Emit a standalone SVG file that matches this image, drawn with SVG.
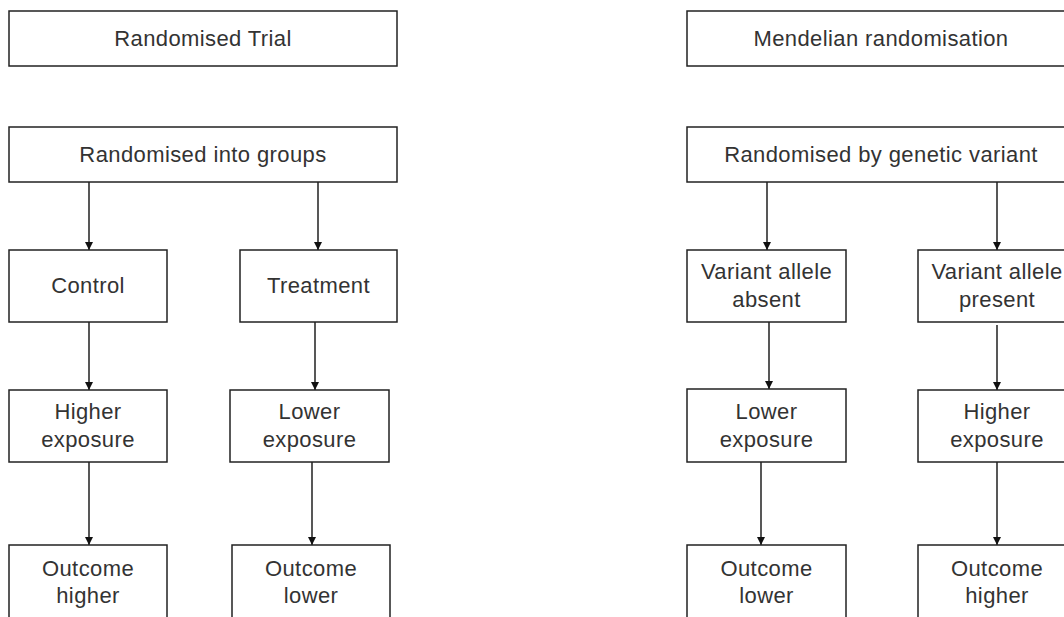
<svg xmlns="http://www.w3.org/2000/svg" width="1064" height="617" viewBox="0 0 1064 617">
<style>
.box{fill:#fff;stroke:#222;stroke-width:1.5}
.t{font-family:"Liberation Sans",Arial,sans-serif;font-size:22px;letter-spacing:0.4px;fill:#333;text-anchor:middle}
.c{stroke:#111;stroke-width:1.4;fill:none;marker-end:url(#ah)}
</style>
<defs>
<marker id="ah" markerWidth="9" markerHeight="9" refX="8" refY="4" orient="auto" markerUnits="userSpaceOnUse">
<path d="M0,0 L8,4 L0,8 Z" fill="#111"/>
</marker>
</defs>
<rect width="1064" height="617" fill="#fff"/>
<g id="connectors">
<line class="c" x1="89" y1="182" x2="89" y2="250"/>
<line class="c" x1="318" y1="182" x2="318" y2="250"/>
<line class="c" x1="89" y1="322" x2="89" y2="390"/>
<line class="c" x1="315" y1="322" x2="315" y2="390"/>
<line class="c" x1="89" y1="462" x2="89" y2="545"/>
<line class="c" x1="312" y1="462" x2="312" y2="545"/>
<line class="c" x1="767" y1="182" x2="767" y2="250"/>
<line class="c" x1="997" y1="182" x2="997" y2="250"/>
<line class="c" x1="769" y1="322" x2="769" y2="389"/>
<line class="c" x1="997" y1="325" x2="997" y2="390"/>
<line class="c" x1="761" y1="462" x2="761" y2="545"/>
<line class="c" x1="997" y1="462" x2="997" y2="545"/>
</g>
<g id="rt-title"><rect class="box" x="9" y="11" width="388" height="55"/><text class="t" x="203" y="46">Randomised Trial</text></g>
<g id="rt-groups"><rect class="box" x="9" y="127" width="388" height="55"/><text class="t" x="203" y="162">Randomised into groups</text></g>
<g id="rt-control"><rect class="box" x="9" y="250" width="158" height="72"/><text class="t" x="88" y="293">Control</text></g>
<g id="rt-treatment"><rect class="box" x="240" y="250" width="157" height="72"/><text class="t" x="318.5" y="293">Treatment</text></g>
<g id="rt-higher-exp"><rect class="box" x="9" y="390" width="158" height="72"/><text class="t" x="88" y="419">Higher</text><text class="t" x="88" y="447">exposure</text></g>
<g id="rt-lower-exp"><rect class="box" x="230" y="390" width="159" height="72"/><text class="t" x="309.5" y="419">Lower</text><text class="t" x="309.5" y="447">exposure</text></g>
<g id="rt-out-higher"><rect class="box" x="9" y="545" width="158" height="74"/><text class="t" x="88" y="576">Outcome</text><text class="t" x="88" y="603">higher</text></g>
<g id="rt-out-lower"><rect class="box" x="232" y="545" width="158" height="74"/><text class="t" x="311" y="576">Outcome</text><text class="t" x="311" y="603">lower</text></g>
<g id="mr-title"><rect class="box" x="687" y="11" width="388" height="55"/><text class="t" x="881" y="46">Mendelian randomisation</text></g>
<g id="mr-variant"><rect class="box" x="687" y="127" width="388" height="55"/><text class="t" x="881" y="162">Randomised by genetic variant</text></g>
<g id="mr-absent"><rect class="box" x="687" y="250" width="159" height="72"/><text class="t" x="766.5" y="279">Variant allele</text><text class="t" x="766.5" y="307">absent</text></g>
<g id="mr-present"><rect class="box" x="918" y="250" width="158" height="72"/><text class="t" x="997" y="279">Variant allele</text><text class="t" x="997" y="307">present</text></g>
<g id="mr-lower-exp"><rect class="box" x="687" y="389" width="159" height="73"/><text class="t" x="766.5" y="419">Lower</text><text class="t" x="766.5" y="447">exposure</text></g>
<g id="mr-higher-exp"><rect class="box" x="918" y="390" width="158" height="72"/><text class="t" x="997" y="419">Higher</text><text class="t" x="997" y="447">exposure</text></g>
<g id="mr-out-lower"><rect class="box" x="687" y="545" width="159" height="74"/><text class="t" x="766.5" y="576">Outcome</text><text class="t" x="766.5" y="603">lower</text></g>
<g id="mr-out-higher"><rect class="box" x="918" y="545" width="158" height="74"/><text class="t" x="997" y="576">Outcome</text><text class="t" x="997" y="603">higher</text></g>
</svg>
